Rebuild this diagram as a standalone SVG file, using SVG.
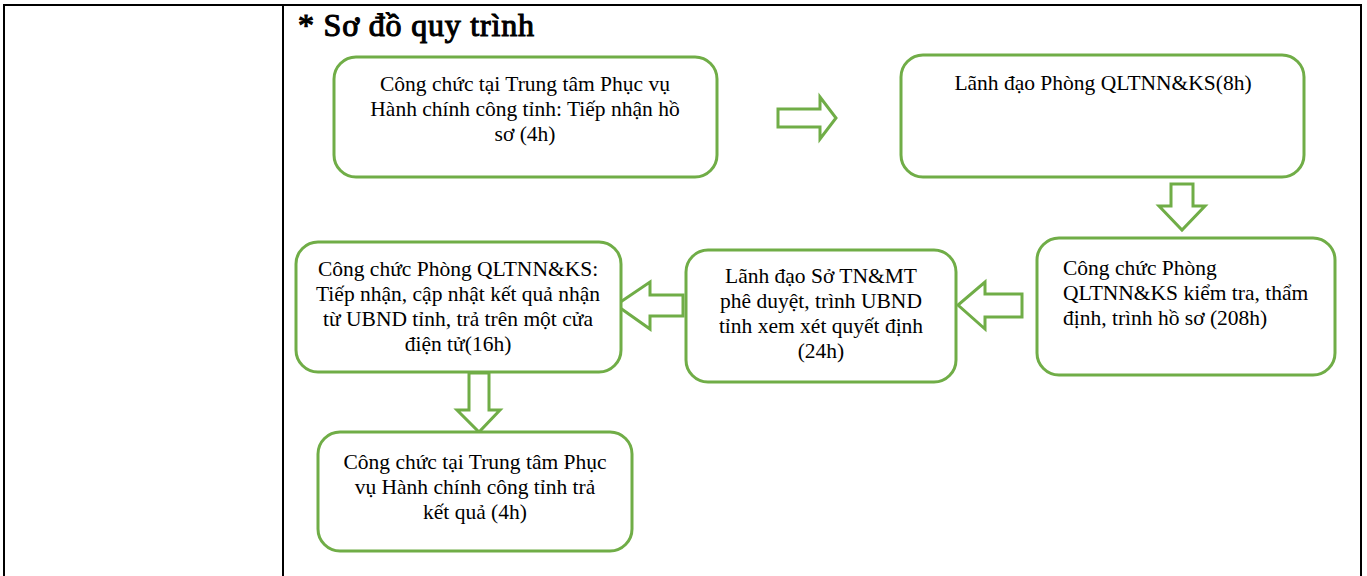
<svg xmlns="http://www.w3.org/2000/svg" width="1367" height="576" viewBox="0 0 1367 576">
<style>
.tbl{stroke:#000;stroke-width:2;fill:none}
.box{fill:#fff;stroke:#70AD47;stroke-width:3}
.arr{fill:#fff;stroke:#70AD47;stroke-width:3;stroke-linejoin:miter}
.t{font-family:"Liberation Serif","Times New Roman",serif;font-size:21.5px;fill:#000}
.c{text-anchor:middle}
.title{font-family:"Liberation Serif","Times New Roman",serif;font-size:32px;fill:#000;stroke:#000;stroke-width:1.1}
</style>
<rect width="1367" height="576" fill="#fff"/>
<g id="table">
<line class="tbl" x1="3" y1="5" x2="1362" y2="5"/>
<line class="tbl" x1="4" y1="4" x2="4" y2="576"/>
<line class="tbl" x1="283" y1="4" x2="283" y2="576"/>
<line class="tbl" x1="1361" y1="4" x2="1361" y2="576"/>
</g>
<text class="title" x="298" y="36" textLength="236" lengthAdjust="spacing">* Sơ đồ quy trình</text>
<g id="connectors">
<path class="arr" d="M778,109 L820,109 L820,97 L836,118 L820,139 L820,127 L778,127 Z"/>
<path class="arr" d="M1171,184 L1193,184 L1193,206 L1205,206 L1182,230 L1159,206 L1171,206 Z"/>
<path class="arr" d="M1022,294 L985,294 L985,282 L958,305 L985,329 L985,317 L1022,317 Z"/>
<path class="arr" d="M683,295 L650,295 L650,282 L616,305 L650,329 L650,316 L683,316 Z"/>
<path class="arr" d="M469,373 L489,373 L489,410 L500,410 L479,432 L457,410 L469,410 Z"/>
</g>
<g id="node1">
<rect class="box" x="334" y="57" width="383" height="120" rx="22"/>
<text class="t c" x="525" y="91">Công chức tại Trung tâm Phục vụ</text>
<text class="t c" x="525" y="116">Hành chính công tỉnh: Tiếp nhận hồ</text>
<text class="t c" x="525" y="141">sơ (4h)</text>
</g>
<g id="node2">
<rect class="box" x="901" y="55" width="403" height="122" rx="22"/>
<text class="t c" x="1103" y="90">Lãnh đạo Phòng QLTNN&amp;KS(8h)</text>
</g>
<g id="node3">
<rect class="box" x="1037" y="238" width="298" height="137" rx="22"/>
<text class="t" x="1063" y="275">Công chức Phòng</text>
<text class="t" x="1063" y="300">QLTNN&amp;KS kiểm tra, thẩm</text>
<text class="t" x="1063" y="325">định, trình hồ sơ (208h)</text>
</g>
<g id="node4">
<rect class="box" x="686" y="250" width="270" height="132" rx="22"/>
<text class="t c" x="821" y="283">Lãnh đạo Sở TN&amp;MT</text>
<text class="t c" x="821" y="308">phê duyệt, trình UBND</text>
<text class="t c" x="821" y="333">tỉnh xem xét quyết định</text>
<text class="t c" x="821" y="358">(24h)</text>
</g>
<g id="node5">
<rect class="box" x="296" y="242" width="325" height="130" rx="22"/>
<text class="t c" x="458" y="276">Công chức Phòng QLTNN&amp;KS:</text>
<text class="t c" x="458" y="301">Tiếp nhận, cập nhật kết quả nhận</text>
<text class="t c" x="458" y="326">từ UBND tỉnh, trả trên một cửa</text>
<text class="t c" x="458" y="351">điện tử(16h)</text>
</g>
<g id="node6">
<rect class="box" x="318" y="432" width="314" height="119" rx="22"/>
<text class="t c" x="475" y="469">Công chức tại Trung tâm Phục</text>
<text class="t c" x="475" y="494">vụ Hành chính công tỉnh trả</text>
<text class="t c" x="475" y="519">kết quả (4h)</text>
</g>
</svg>
